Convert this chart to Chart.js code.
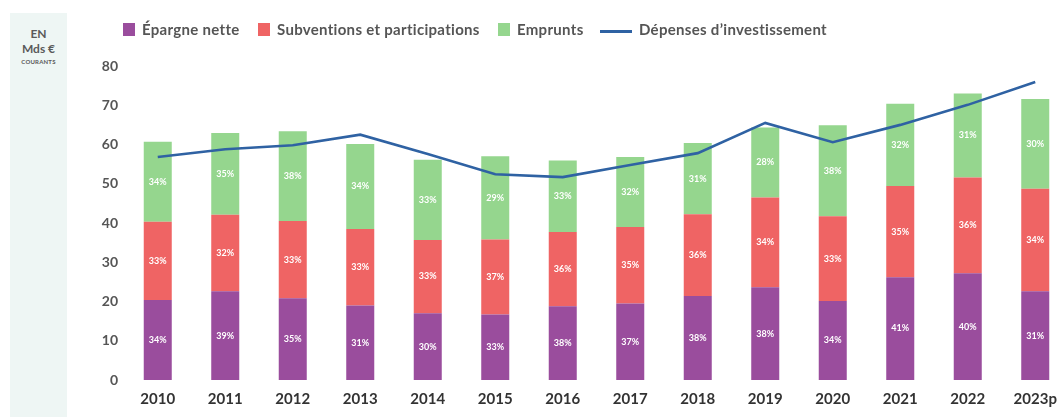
<!DOCTYPE html>
<html>
<head>
<meta charset="utf-8">
<script src="https://cdn.jsdelivr.net/npm/chart.js@4.4.1/dist/chart.umd.min.js"></script>
<style>
  html, body { margin: 0; padding: 0; width: 1060px; height: 417px; overflow: hidden; background: #fff; }
  #side { position: absolute; left: 10px; top: 13px; width: 57px; height: 404px; background: #eef6f4;
          font-family: Lato, sans-serif; color: #5a5a5a; text-align: center; font-weight: bold; }
  #side .a { font-size: 12px; line-height: 15px; margin-top: 13px; }
  #side .b { font-size: 6px; line-height: 8px; margin-top: 2px; letter-spacing: 0.2px; }
  #legend { position: absolute; left: 0; top: 20px; width: 1060px; height: 20px;
            font-family: Lato, sans-serif; font-weight: bold; font-size: 15px; color: #555; letter-spacing: 0.3px; }
  #legend .item { position: absolute; top: 0; display: flex; align-items: center; height: 18px; white-space: nowrap; }
  #legend .sw { width: 12px; height: 13px; margin-right: 7px; }
  #legend .ln { width: 32px; height: 3px; margin-right: 7px; margin-top: 4px; }
  #wrap { position: absolute; left: 0; top: 0; width: 1075px; height: 417px; }
</style>
</head>
<body>
<div id="side"><div class="a">EN<br>Mds €</div><div class="b">COURANTS</div></div>
<div id="wrap"><canvas id="chart"></canvas></div>
<div id="legend"></div>
<script>
// données (Mds € courants)
var years = ['2010', '2011', '2012', '2013', '2014', '2015', '2016', '2017', '2018', '2019', '2020', '2021', '2022', '2023p'];
var epargne = [20.4, 22.6, 20.8, 19.0, 17.0, 16.7, 18.8, 19.5, 21.4, 23.6, 20.1, 26.2, 27.2, 22.6];
var subventions = [19.9, 19.5, 19.7, 19.5, 18.7, 19.1, 18.9, 19.5, 20.8, 22.9, 21.6, 23.2, 24.4, 26.1];
var emprunts = [20.4, 20.8, 22.9, 21.6, 20.4, 21.2, 18.2, 17.8, 18.2, 17.8, 23.2, 21.0, 21.4, 22.9];
var depenses = [56.8, 58.8, 59.8, 62.5, 57.6, 52.4, 51.7, 54.8, 57.8, 65.5, 60.6, 65.0, 70.1, 75.9];

// parts affichées dans les barres
var pctEpargne = ['34%', '39%', '35%', '31%', '30%', '33%', '38%', '37%', '38%', '38%', '34%', '41%', '40%', '31%'];
var pctSubventions = ['33%', '32%', '33%', '33%', '33%', '37%', '36%', '35%', '36%', '34%', '33%', '35%', '36%', '34%'];
var pctEmprunts = ['34%', '35%', '38%', '34%', '33%', '29%', '33%', '32%', '31%', '28%', '38%', '32%', '31%', '30%'];

var yTicks = [0, 10, 20, 30, 40, 50, 60, 70, 80];

var purple = '#9a4d9d';
var red = '#ef6464';
var green = '#95d68e';
var blue = '#2f62a3';

var series = [
  { label: 'Épargne nette', data: epargne, color: purple, pct: pctEpargne },
  { label: 'Subventions et participations', data: subventions, color: red, pct: pctSubventions },
  { label: 'Emprunts', data: emprunts, color: green, pct: pctEmprunts }
];

// legend (html), x of each entry
var legX = [123, 258, 498, 600];
var leg = document.getElementById('legend');
series.forEach(function(s, i) {
  leg.innerHTML += '<div class="item" style="left:' + legX[i] + 'px"><div class="sw" style="background:' + s.color + '"></div>' + s.label + '</div>';
});
leg.innerHTML += '<div class="item" style="left:' + legX[3] + 'px"><div class="ln" style="background:' + blue + '"></div>Dépenses d\u2019investissement</div>';

var datasets = series.map(function(s) {
  return {
    type: 'bar',
    label: s.label,
    data: s.data,
    backgroundColor: s.color,
    stack: 'fin',
    order: 1,
    barPercentage: 0.415,
    categoryPercentage: 1
  };
});
datasets.push({
  type: 'line',
  label: 'Dépenses d\u2019investissement',
  data: depenses,
  borderColor: blue,
  borderWidth: 2.6,
  pointRadius: 0,
  tension: 0,
  stack: 'dep',
  order: 0
});

// pourcentages dans les barres
var pctPlugin = {
  id: 'pct',
  afterDatasetsDraw: function(chart) {
    var ctx = chart.ctx;
    ctx.save();
    ctx.fillStyle = '#fff';
    ctx.font = 'bold 9px Lato, sans-serif';
    ctx.textAlign = 'center';
    ctx.textBaseline = 'middle';
    series.forEach(function(s, i) {
      chart.getDatasetMeta(i).data.forEach(function(bar, j) {
        ctx.fillText(s.pct[j], bar.x, (bar.y + bar.base) / 2);
      });
    });
    ctx.restore();
  }
};

new Chart(document.getElementById('chart'), {
  data: { labels: years, datasets: datasets },
  plugins: [pctPlugin],
  options: {
    responsive: true,
    maintainAspectRatio: false,
    animation: false,
    layout: { padding: { top: 66, right: 6, bottom: 0, left: 0 } },
    plugins: { legend: { display: false }, tooltip: { enabled: false } },
    scales: {
      x: {
        stacked: true,
        grid: { display: false, drawTicks: false },
        border: { display: false },
        ticks: { color: '#333', padding: 10, font: { family: 'Lato', weight: 'bold', size: 15 } },
        afterFit: function(s) { s.height = 37; }
      },
      y: {
        stacked: true,
        min: 0,
        max: 80,
        grid: { display: false, drawTicks: false },
        border: { display: false },
        afterBuildTicks: function(s) { s.ticks = yTicks.map(function(v) { return { value: v }; }); },
        ticks: { color: '#555', padding: 6, font: { family: 'Lato', weight: 'bold', size: 14 } },
        afterFit: function(s) { s.width = 124; }
      }
    }
  }
});
</script>
</body>
</html>
